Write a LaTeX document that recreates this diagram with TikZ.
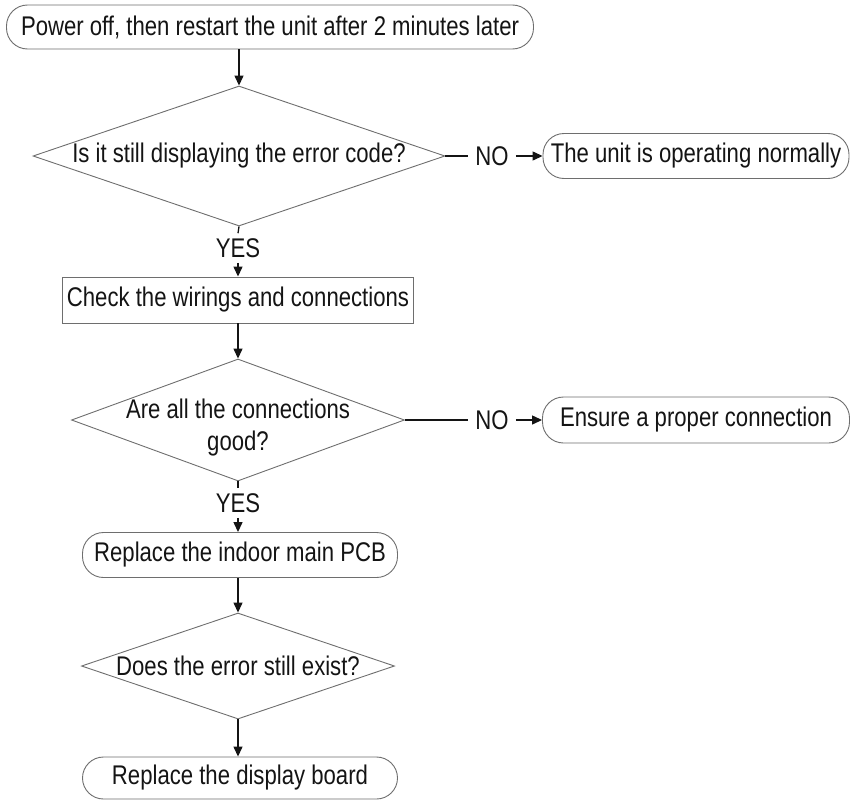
\documentclass[tikz,border=0pt]{standalone}
\usepackage{fontspec}
\setmainfont[FakeStretch=0.82]{Liberation Sans}
\usetikzlibrary{arrows.meta,shapes.geometric}
\definecolor{edge}{HTML}{6E6E6E}
\definecolor{ink}{HTML}{141414}
\tikzset{
  ar/.style={-{Triangle[length=10pt,width=9pt]},line width=1.3pt,ink},
  ln/.style={line width=1.3pt,ink},
  box/.style={draw=edge,line width=0.9pt,fill=white,text=ink,inner sep=0pt,font=\fontsize{27}{32}\selectfont},
  rbox/.style={box,rounded corners=21pt},
  dia/.style={diamond,draw=edge,line width=0.9pt,inner sep=0pt},
  lbl/.style={text=ink,inner xsep=7pt,inner ysep=5pt,font=\fontsize{27}{32}\selectfont,align=center}
}

\begin{document}
\begin{tikzpicture}[x=1pt,y=-1pt]
\useasboundingbox (0,0) rectangle (851,800);
% steps
\node[rbox,minimum width=527pt,minimum height=44pt] (top) at (270,27) {Power off, then restart the unit after 2 minutes later};
\node[dia,minimum width=412pt,minimum height=140pt] (d1) at (239,156) {};
\node[lbl] (d1t) at (d1) {Is it still displaying the error code?};
\node[lbl] (no1) at (492,156) {NO};
\node[rbox,minimum width=306pt,minimum height=45pt] (unit) at (696,156) {The unit is operating normally};
\node[lbl] (yes1) at (238,248) {YES};
\node[box,minimum width=351pt,minimum height=46pt] (chk) at (238,300) {Check the wirings and connections};
\node[dia,minimum width=333pt,minimum height=122pt] (d2) at (238,420) {};
\node[lbl] (d2t) at (238,428) {Are all the connections\\good?};
\node[lbl] (no2) at (492,420) {NO};
\node[rbox,minimum width=307pt,minimum height=46pt] (conn) at (696,420) {Ensure a proper connection};
\node[lbl] (yes2) at (238,503) {YES};
\node[rbox,minimum width=315pt,minimum height=45pt] (pcb) at (240,555) {Replace the indoor main PCB};
\node[dia,minimum width=313pt,minimum height=106pt] (d3) at (238,666) {};
\node[lbl] (d3t) at (d3) {Does the error still exist?};
\node[rbox,minimum width=315pt,minimum height=42pt] (disp) at (240,778) {Replace the display board};
% links
\draw[ar] (top.south -| d1.north) -- (d1.north);
\draw[ln] (d1.east) -- (no1.west);
\draw[ar] (no1.east) -- (unit.west);
\draw[ln] (d1.south) -- (yes1.north);
\draw[ar] (yes1.south) -- (chk.north -| yes1.south);
\draw[ar] (chk.south -| d2.north) -- (d2.north);
\draw[ln] (d2.east) -- (no2.west);
\draw[ar] (no2.east) -- (conn.west);
\draw[ln] (d2.south) -- (yes2.north);
\draw[ar] (yes2.south) -- (pcb.north -| yes2.south);
\draw[ar] (pcb.south -| d3.north) -- (d3.north);
\draw[ar] (d3.south) -- (disp.north -| d3.south);
\end{tikzpicture}
\end{document}
